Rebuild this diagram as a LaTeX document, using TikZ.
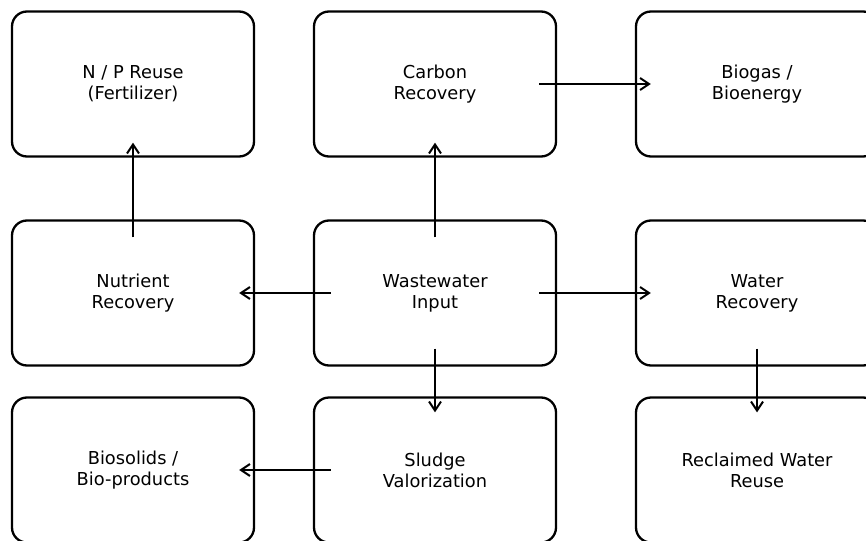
\documentclass[tikz,border=0pt]{standalone}
\usepackage{fontspec}
\setmainfont{DejaVu Sans}
\usepackage{tikz}
\usetikzlibrary{arrows.meta, positioning, calc}
\tikzset{
	flowbox/.style={draw, line width=2.3pt, rounded corners=15pt, minimum width=242pt, minimum height=145pt, align=center, font=\fontsize{17.8}{21}\selectfont, inner sep=0pt},
	flowarr/.style={->, line width=2pt},
}

\begin{document}
\begin{tikzpicture}[
		x=1pt, y=-1pt,
		>={Straight Barb[length=9pt, width=12pt]}
	]
	\clip (0,0) rectangle (866,540);
	\useasboundingbox (0,0) rectangle (866,540);
	% top row
	\node[flowbox] (npr) at (133,84) {N / P Reuse\\(Fertilizer)};
	\node[flowbox] (carb) at (435,84) {Carbon\\Recovery};
	\node[flowbox] (biog) at (757,84) {Biogas /\\Bioenergy};
	% middle row
	\node[flowbox] (nut) at (133,293) {Nutrient\\Recovery};
	\node[flowbox] (ww) at (435,293) {Wastewater\\Input};
	\node[flowbox] (wat) at (757,293) {Water\\Recovery};
	% bottom row
	\node[flowbox] (bios) at (133,470) {Biosolids /\\Bio-products};
	\node[flowbox] (slud) at (435,470) {Sludge\\Valorization};
	\node[flowbox] (recl) at (757,470) {Reclaimed Water\\Reuse};
	% arrows
	\draw[flowarr] ([xshift=18pt]ww.west) -- ([xshift=-16pt]nut.east);
	\draw[flowarr] ([xshift=-18pt]ww.east) -- ([xshift=16pt]wat.west);
	\draw[flowarr] ([yshift=-18pt]ww.north) -- ([yshift=15pt]carb.south);
	\draw[flowarr] ([yshift=18pt]ww.south) -- ([yshift=-16pt]slud.north);
	\draw[flowarr] ([yshift=-18pt]nut.north) -- ([yshift=15pt]npr.south);
	\draw[flowarr] ([xshift=-18pt]carb.east) -- ([xshift=16pt]biog.west);
	\draw[flowarr] ([yshift=18pt]wat.south) -- ([yshift=-16pt]recl.north);
	\draw[flowarr] ([xshift=18pt]slud.west) -- ([xshift=-16pt]bios.east);
\end{tikzpicture}
\end{document}
